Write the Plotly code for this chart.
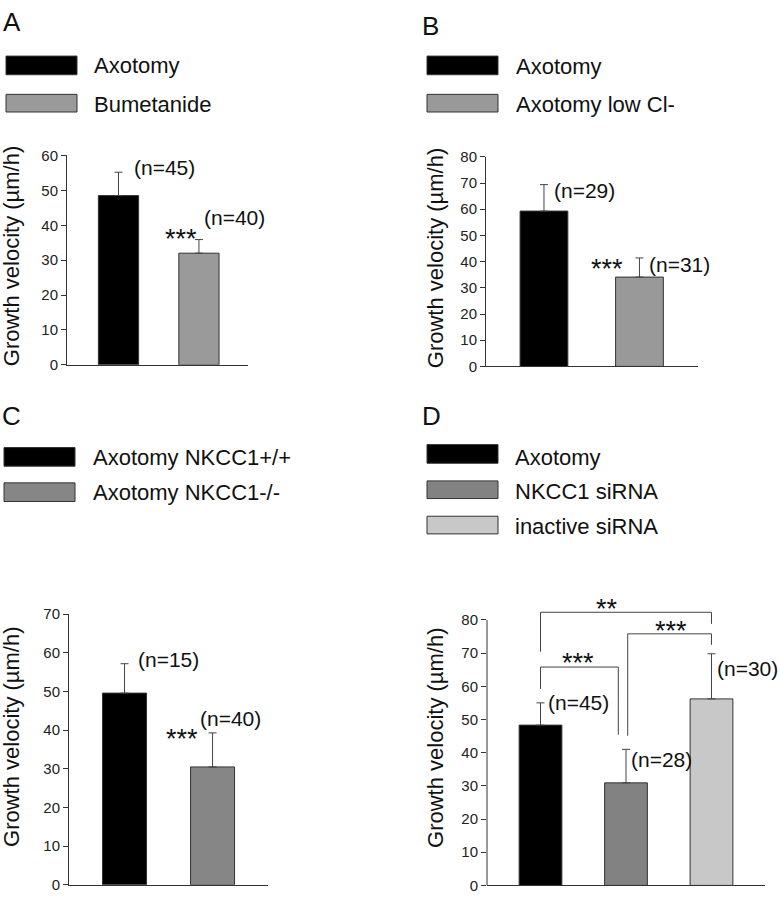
import plotly.graph_objects as go

W, H = 780, 899
FONT = "Arial, Liberation Sans, sans-serif"

# ---------------- data ----------------
a_labels = ["Axotomy", "Bumetanide"]
a_means = [48.5, 32.0]
a_err = [6.7, 3.9]
a_n = ["(n=45)", "(n=40)"]
a_colors = ["#000000", "#9a9a9a"]
a_ticks = [0, 10, 20, 30, 40, 50, 60]

b_labels = ["Axotomy", "Axotomy low Cl-"]
b_means = [59.3, 34.1]
b_err = [10.1, 7.3]
b_n = ["(n=29)", "(n=31)"]
b_colors = ["#000000", "#999999"]
b_ticks = [0, 10, 20, 30, 40, 50, 60, 70, 80]

c_labels = ["Axotomy NKCC1+/+", "Axotomy NKCC1-/-"]
c_means = [49.6, 30.5]
c_err = [7.6, 8.8]
c_n = ["(n=15)", "(n=40)"]
c_colors = ["#000000", "#868686"]
c_ticks = [0, 10, 20, 30, 40, 50, 60, 70]

d_labels = ["Axotomy", "NKCC1 siRNA", "inactive siRNA"]
d_means = [48.3, 30.9, 56.2]
d_err = [6.7, 10.1, 13.6]
d_n = ["(n=45)", "(n=28)", "(n=30)"]
d_colors = ["#000000", "#828282", "#c8c8c8"]
d_ticks = [0, 10, 20, 30, 40, 50, 60, 70, 80]
# significance brackets: (x_left, x_right, y_left_end, y_top, y_right_end, stars)
d_brackets = [
    (1.0, 1.91, 59.2, 65.8, 45.4, "***"),
    (2.02, 3.0, 45.1, 75.8, 72.5, "***"),
    (1.0, 3.0, 70.4, 82.3, 78.8, "**"),
]

# ---------------- helpers ----------------
def fx(px):
    return px / W

def fy(py):
    return 1 - py / H

fig = go.Figure()

panels = [
    # axis suffix, means, err, colors, ticks, x px range, y0 px, ytop px, ymax, xrange
    ("", a_means, a_err, a_colors, a_ticks, (67, 248), 362.7, 149.3, 60, [0.36, 2.61]),
    ("2", b_means, b_err, b_colors, b_ticks, (486, 698), 364.3, 150.7, 80, [0.393, 2.613]),
    ("3", c_means, c_err, c_colors, c_ticks, (69, 268), 892.7, 616.9, 70, [0.369, 2.63]),
    ("4", d_means, d_err, d_colors, d_ticks, (487, 765), 893.3, 599.0, 87, [0.374, 3.626]),
]

axis_common = dict(
    showgrid=False, zeroline=False, showline=True, linecolor="#333333", linewidth=1,
)

layout_axes = {}
for suf, means, err, colors, ticks, xpx, y0px, ytoppx, ymax, xr in panels:
    xs = list(range(1, len(means) + 1))
    fig.add_trace(go.Bar(
        x=xs, y=means, width=0.5,
        marker=dict(color=colors, line=dict(color="#333333", width=1)),
        error_y=dict(type="data", symmetric=False, array=err, arrayminus=[0] * len(err),
                     color="#444444", thickness=1, width=4),
        xaxis="x" + suf, yaxis="y" + suf, showlegend=False, hoverinfo="skip",
    ))
    layout_axes["xaxis" + suf] = dict(
        axis_common, domain=[fx(xpx[0]), fx(xpx[1])], range=xr,
        showticklabels=False, ticks="", anchor="y" + suf, fixedrange=True,
    )
    layout_axes["yaxis" + suf] = dict(
        axis_common, domain=[fy(y0px), fy(ytoppx)], range=[0, ymax],
        tickvals=ticks, ticks="outside", ticklen=5, tickcolor="#333333",
        tickfont=dict(family=FONT, size=15, color="#222222"),
        anchor="x" + suf, fixedrange=True,
    )

# panel D: axis line only up to the last tick
layout_axes["yaxis4"]["showline"] = False

fig.update_layout(**layout_axes)

shapes = [dict(type="line", xref="x4 domain", yref="y4", x0=0, x1=0, y0=0, y1=80,
               line=dict(color="#333333", width=1))]

# brackets
for xl, xrt, yl, yt, yr, stars in d_brackets:
    fig.add_trace(go.Scatter(
        x=[xl, xl, xrt, xrt], y=[yl, yt, yt, yr], mode="lines",
        line=dict(color="#444444", width=1), xaxis="x4", yaxis="y4",
        showlegend=False, hoverinfo="skip",
    ))

annotations = []

def ann(text, px, py, size, xanchor="left", yanchor="middle", angle=0):
    annotations.append(dict(
        text=text, x=fx(px), y=fy(py), xref="paper", yref="paper",
        xanchor=xanchor, yanchor=yanchor, showarrow=False, textangle=angle,
        font=dict(family=FONT, size=size, color="#111111"),
    ))

# panel letters
ann("A", 12, 13, 26, "center")
ann("B", 430, 17, 26, "center")
ann("C", 11, 415, 26, "center")
ann("D", 431, 415, 26, "center")

# legends (swatch + label)
def legend(labels, colors, box_x, box_ys, text_x, text_ys):
    for lab, col, (y0, y1), ty in zip(labels, colors, box_ys, text_ys):
        shapes.append(dict(type="rect", xref="paper", yref="paper",
                           x0=fx(box_x[0]), x1=fx(box_x[1]), y0=fy(y1), y1=fy(y0),
                           fillcolor=col, line=dict(color="#333333", width=1)))
        ann(lab, text_x, ty, 22)

legend(a_labels, a_colors, (6, 77), [(48, 67), (87, 105)], 92, [58, 97])
legend(b_labels, b_colors, (427, 498), [(48, 67), (87, 105)], 514, [58.5, 97])
legend(c_labels, c_colors, (4, 75), [(447, 466), (483, 502)], 91, [457, 493])
legend(d_labels, d_colors, (427, 498), [(444, 463), (481, 499), (517, 535)], 513, [457, 492, 527])

# y axis titles
ytitle = "Growth velocity (µm/h)"
ann(ytitle, 11, 252, 22, "center", "middle", -90)
ann(ytitle, 435, 254, 22, "center", "middle", -90)
ann(ytitle, 12, 742, 22, "center", "middle", -90)
ann(ytitle, 436, 743, 22, "center", "middle", -90)

# n labels and stars
ST = 27
ann(a_n[0], 132, 162, 21)
ann(a_n[1], 202, 213, 21)
ann("***", 181, 234, ST, "center")

ann(b_n[0], 552, 185, 21)
ann(b_n[1], 647, 260, 21)
ann("***", 607, 265, ST, "center")

ann(c_n[0], 136, 663, 21)
ann(c_n[1], 198, 723, 21)
ann("***", 182, 744, ST, "center")

ann(d_n[0], 546, 707, 21)
ann(d_n[1], 629, 765, 21)
ann(d_n[2], 780, 672, 21, "right")
ann(d_brackets[0][5], 578, 667, ST, "center")
ann(d_brackets[1][5], 671, 634, ST, "center")
ann(d_brackets[2][5], 607, 612, ST, "center")

fig.update_layout(
    width=W, height=H, margin=dict(l=0, r=0, t=0, b=0),
    paper_bgcolor="white", plot_bgcolor="white",
    shapes=shapes, annotations=annotations, showlegend=False,
    font=dict(family=FONT), hovermode=False,
)

fig.write_html("out.html", config={"displayModeBar": False},
               post_script="document.body.style.margin='0px';")
